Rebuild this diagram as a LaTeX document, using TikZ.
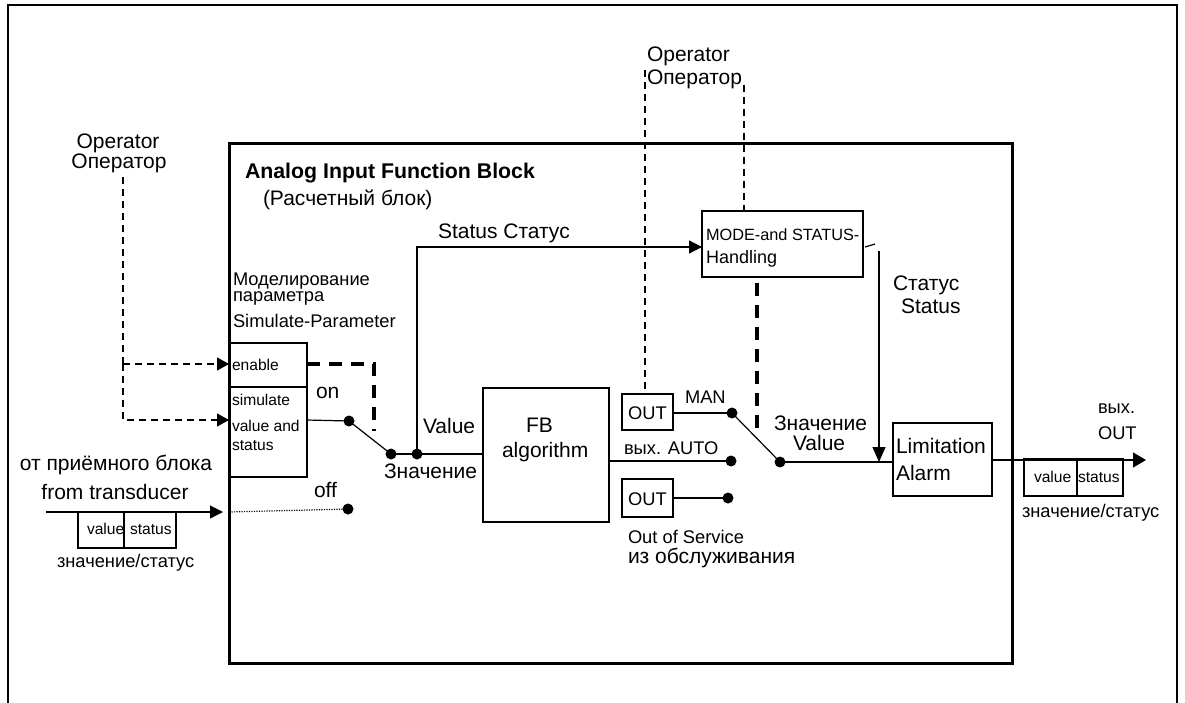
\documentclass[tikz,border=0pt]{standalone}
\usepackage{fontspec}
\setmainfont{Liberation Sans}
\usetikzlibrary{arrows.meta}
\begin{document}
\begin{tikzpicture}[x=1pt,y=-1pt,
  txt/.style={inner sep=0pt, outer sep=0pt},
  big/.style={txt, font=\fontsize{21}{24}\selectfont},
  mid/.style={txt, font=\fontsize{18.3}{21}\selectfont},
  sm/.style={txt, font=\fontsize{15.6}{18}\selectfont},
  box/.style={draw, line width=1.3pt, inner sep=0pt, outer sep=0pt, anchor=north west},
  wire/.style={line width=1.2pt},
  arr/.style={wire, -{Triangle[length=13pt,width=13pt]}},
  dsh/.style={line width=1.4pt, dash pattern=on 7pt off 5pt},
  tdsh/.style={line width=3.8pt, dash pattern=on 13pt off 9pt},
  dot/.style={circle, fill, inner sep=0pt, outer sep=0pt, minimum size=11pt},
]
\useasboundingbox (0,0) rectangle (1185,702);
% outer frame
\draw[line width=1.5pt] (8,704) -- (8,5) -- (1177,5) -- (1177,704);

% main block
\node[box, line width=3pt, minimum width=783pt, minimum height=520pt] (main) at (229,143) {};
\node[big, font=\fontsize{21.3}{24}\selectfont\bfseries, anchor=base west] (title) at (245,178) {Analog Input Function Block};
\node[big, anchor=base west] (title2) at (263,205) {(Расчетный блок)};

% operators
\node[big, anchor=base] (op1a) at (118,148) {Operator};
\node[big, anchor=base] (op1b) at (119,168) {Оператор};
\node[big, anchor=base west] (op2a) at (647,61) {Operator};
\node[big, anchor=base west] (op2b) at (647,84) {Оператор};

% simulate block
\node[mid, anchor=base west] (simL1) at (233,285) {Моделирование};
\node[mid, anchor=base west] (simL2) at (233,301) {параметра};
\node[mid, anchor=base west] (simL3) at (233,327) {Simulate-Parameter};
\node[box, minimum width=78pt, minimum height=134pt] (sim) at (229,343) {};
\coordinate (simDivL) at (229,387);
\coordinate (simDivR) at (307,387);
\draw[line width=1.3pt] (simDivL) -- (simDivR);
\node[sm, anchor=base west] (tEn) at (232,370) {enable};
\node[sm, anchor=base west] (tSim) at (232,405) {simulate};
\node[sm, anchor=base west] (tVa) at (232,431) {value and};
\node[sm, anchor=base west] (tSt) at (232,450) {status};

\coordinate (simEn) at (229,364);
\coordinate (simVal) at (229,420);
\coordinate (opc1) at (123,177);
\coordinate (br1) at (123,364);
\draw[dsh] (opc1) -- (br1);
\draw[dsh, -{Triangle[length=12pt,width=13pt]}] (br1) -- (simEn);
\draw[dsh, -{Triangle[length=12pt,width=13pt]}] (br1) |- (simVal);

% thick dashed enable
\coordinate (en1) at (307,364);
\coordinate (en2) at (374,364);
\coordinate (en3) at (374,431);
\draw[tdsh] (en1) -- (en2) -- (en3);

% switch 1
\node[dot] (ondot) at (349,421) {};
\node[dot] (sw1) at (391,454) {};
\node[dot] (jv) at (417,454) {};
\node[dot] (offdot) at (348,509) {};
\node[big, anchor=base west] (tOn) at (316,398) {on};
\node[big, anchor=base west] (tOff) at (314,497) {off};
\draw[wire] (sim.east |- simVal) -- (ondot.center);
\draw[wire] (ondot.center) -- (sw1.center);
\draw[wire] (sw1.center) -- (jv.center);

% input
\coordinate (in0) at (46,512);
\coordinate (in1) at (223,512);
\coordinate (in2) at (229,512);
\draw[arr] (in0) -- (in1);
\draw[line width=1.2pt, dash pattern=on 1.2pt off 1.3pt] (in2) -- (offdot.center);
\node[box, minimum width=46pt, minimum height=36pt] (iv1) at (78,512) {};
\node[box, minimum width=52pt, minimum height=36pt] (iv2) at (124,512) {};
\node[sm, anchor=base west] (tiv1) at (87,534) {value};
\node[sm, anchor=base west] (tiv2) at (130,534) {status};
\node[big, anchor=base] (tFrom1) at (116,470) {от приёмного блока};
\node[big, anchor=base] (tFrom2) at (115,499) {from transducer};
\node[mid, anchor=base west] (tIvs) at (57,567) {значение/статус};

% FB algorithm
\node[box, minimum width=126pt, minimum height=134pt] (fbalg) at (483,388) {};
\node[big, anchor=base west] (tFB) at (526,432) {FB};
\node[big, anchor=base west] (tAlg) at (502,457) {algorithm};
\draw[wire] (jv.center) -- (jv -| fbalg.west);
\node[big, anchor=base west] (tValue) at (423,433) {Value};
\node[big, anchor=base west] (tZn) at (384,478) {Значение};

% status line to MODE
\node[box, minimum width=161pt, minimum height=66pt] (mode) at (702,211) {};
\node[txt, font=\fontsize{16.3}{19}\selectfont, anchor=base west] (tMode1) at (706,240) {MODE-and STATUS-};
\node[txt, font=\fontsize{18}{21}\selectfont, anchor=base west] (tMode2) at (706,263) {Handling};
\coordinate (modeIn) at (702,247);
\draw[arr] (jv.center) |- (modeIn);
\node[big, anchor=base west] (tStat) at (438,238) {Status Статус};

% OUT boxes and switch 2
\node[box, minimum width=51pt, minimum height=36pt] (out1) at (622,394) {};
\node[mid, anchor=base] (tOut1) at (647.5,419) {OUT};
\node[box, minimum width=51pt, minimum height=38pt] (out2) at (622,479) {};
\node[mid, anchor=base] (tOut2) at (647.5,505) {OUT};
\node[dot] (mandot) at (732,413) {};
\node[dot] (autodot) at (731,461) {};
\node[dot] (oosdot) at (728,498) {};
\node[dot] (sw2) at (780,462) {};
\draw[wire] (out1.east |- mandot) -- (mandot.center);
\draw[wire] (fbalg.east |- autodot) -- (autodot.center);
\draw[wire] (out2.east |- oosdot) -- (oosdot.center);
\draw[wire] (mandot.center) -- (sw2.center);
\node[mid, anchor=base west] (tMan) at (685,403) {MAN};
\node[mid, anchor=base west] (tAuto) at (624,454) {вых. AUTO};
\node[mid, anchor=base west] (tOos1) at (628,543) {Out of Service};
\node[big, anchor=base west] (tOos2) at (628,563) {из обслуживания};

% operator 2 dashed lines
\coordinate (op2L) at (645,70);
\coordinate (op2R) at (744,85);
\draw[dsh] (op2L) -- (op2L |- out1.north);
\draw[dsh] (op2R) -- (op2R |- mode.north);
\coordinate (md1) at (757,283);
\coordinate (md2) at (757,432);
\draw[tdsh] (md1) -- (md2);

% limitation
\node[box, minimum width=99pt, minimum height=73pt] (lim) at (893,423) {};
\node[big, anchor=base west] (tLim1) at (896,453) {Limitation};
\node[big, anchor=base west] (tLim2) at (896,480) {Alarm};
\draw[wire] (sw2.center) -- (lim.west |- sw2);
\node[big, anchor=base west] (tZn2) at (774,430) {Значение};
\node[big, anchor=base west] (tVal2) at (793,450) {Value};

% status from MODE
\coordinate (tk1) at (865,247);
\coordinate (tk2) at (875,244);
\draw[wire] (tk1) -- (tk2);
\coordinate (st1) at (879,251);
\coordinate (st2) at (879,462);
\draw[wire, -{Triangle[length=15pt,width=13pt]}] (st1) -- (st2);
\node[big, anchor=base west] (tSt1) at (893,290) {Статус};
\node[big, anchor=base west] (tSt2) at (901,313) {Status};

% output
\coordinate (outEnd) at (1146,460);
\draw[wire, -{Triangle[length=13pt,width=15pt]}] (lim.east |- outEnd) -- (outEnd);
\node[box, minimum width=53pt, minimum height=37pt] (ov1) at (1024,459) {};
\node[box, minimum width=46pt, minimum height=37pt] (ov2) at (1077,459) {};
\node[sm, anchor=base west] (tov1) at (1034,482) {value};
\node[sm, anchor=base west] (tov2) at (1078,482) {status};
\node[mid, anchor=base west] (tOvs) at (1022,517) {значение/статус};
\node[mid, anchor=base west] (tOutA) at (1098,413) {вых.};
\node[mid, anchor=base west] (tOutB) at (1098,439) {OUT};
\end{tikzpicture}
\end{document}
